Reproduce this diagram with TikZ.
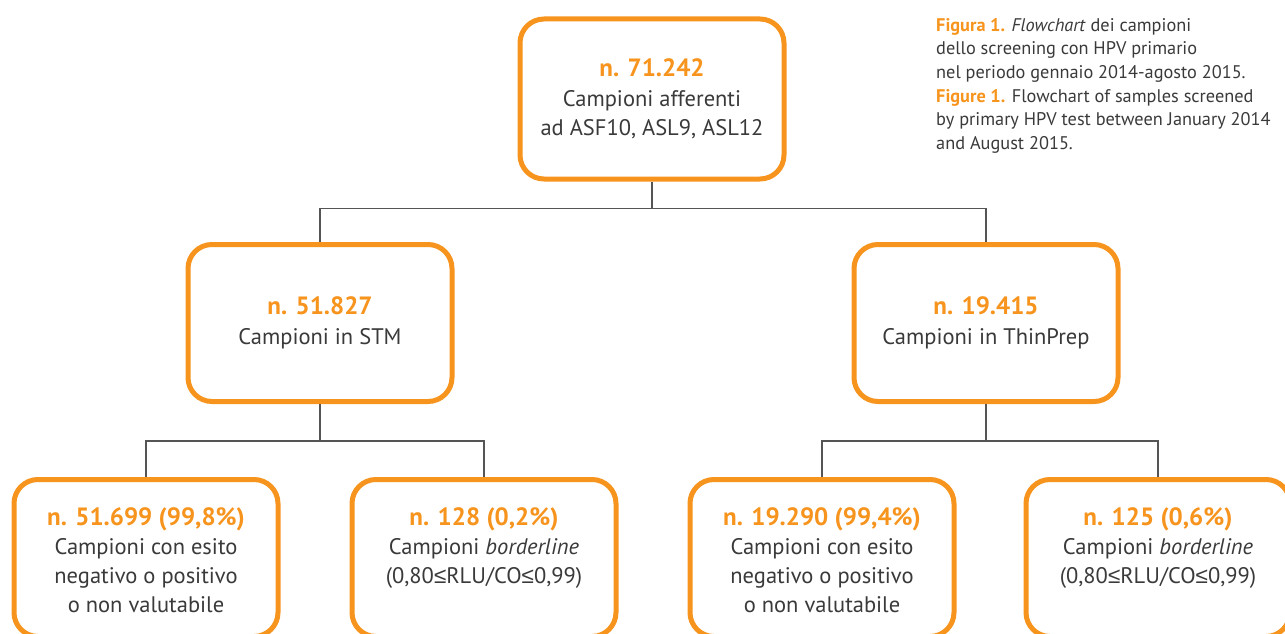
\documentclass[tikz,border=0pt]{standalone}
\usepackage{fontspec}
\setmainfont{PT Sans}
\newfontfamily\symfont{Liberation Sans}
\usetikzlibrary{positioning}
\definecolor{boxorange}{HTML}{F7941D}
\definecolor{txtgray}{HTML}{3A3A3A}
\definecolor{linegray}{HTML}{555555}
\tikzset{
  flowbox/.style={ draw=boxorange, line width=5pt, rounded corners=24pt, fill=white,
    minimum width=264pt, minimum height=157pt, text=txtgray, align=center,
    font=\fontsize{22.5}{29.5}\selectfont }
}
\tikzset{
  boxtext/.style={ text=txtgray, align=center, inner sep=0pt, font=\fontsize{22.5}{29.3}\selectfont }
}
\tikzset{
  link/.style={ draw=linegray, line width=1.4pt }
}
\newcommand{\numtxt}[1]{{\bfseries\color{boxorange}#1}}
\newcommand{\bignum}[1]{{\fontsize{25}{29.5}\selectfont\numtxt{#1}}}
\newcommand{\lesym}{{\symfont ≤}}

\begin{document}
\begin{tikzpicture}[x=1pt, y=-1pt]
  \path[use as bounding box, clip] (0,0) rectangle (1285,634);
  \node[flowbox, minimum height=160pt] (tot) at (652, 99) {\bignum{n. 71.242}\\Campioni afferenti\\ad ASF10, ASL9, ASL12};
  \node[flowbox] (stm) at (320, 323) {\bignum{n. 51.827}\\Campioni in STM};
  \node[flowbox] (thin) at (986, 323) {\bignum{n. 19.415}\\Campioni in ThinPrep};
  % bottom row: boxes run past the lower edge, text sits at the top
  \node[flowbox] (stmneg) at (146, 558) {};
  \node[flowbox] (stmbord) at (484, 558) {};
  \node[flowbox] (thinneg) at (822, 558) {};
  \node[flowbox] (thinbord) at (1158, 558) {};
  \node[boxtext, below=30pt of stmneg.north] (stmnegtxt) {\bignum{n. 51.699 (99,8\%)}\\Campioni con esito\\negativo o positivo\\o non valutabile};
  \node[boxtext, below=30pt of stmbord.north] (stmbordtxt) {\bignum{n. 128 (0,2\%)}\\Campioni \textit{borderline}\\(0,80\lesym RLU/CO\lesym 0,99)};
  \node[boxtext, below=30pt of thinneg.north] (thinnegtxt) {\bignum{n. 19.290 (99,4\%)}\\Campioni con esito\\negativo o positivo\\o non valutabile};
  \node[boxtext, below=30pt of thinbord.north] (thinbordtxt) {\bignum{n. 125 (0,6\%)}\\Campioni \textit{borderline}\\(0,80\lesym RLU/CO\lesym 0,99)};
  \draw[link] (tot.south) -- ++(0,27) coordinate (hubtop) -| (stm.north);
  \draw[link] (hubtop) -| (thin.north);
  \draw[link] (stm.south) -- ++(0,37) coordinate (hubstm) -| (stmneg.north);
  \draw[link] (hubstm) -| (stmbord.north);
  \draw[link] (thin.south) -- ++(0,37) coordinate (hubthin) -| (thinneg.north);
  \draw[link] (hubthin) -| (thinbord.north);
  \node[anchor=north west, inner sep=0pt, align=left, text=txtgray,
    font=\fontsize{18.3}{23.6}\selectfont] (caption) at (936, 18)
    {\numtxt{Figura 1.} \textit{Flowchart} dei campioni\\dello screening con HPV primario\\nel periodo gennaio 2014-agosto 2015.\\\numtxt{Figure 1.} Flowchart of samples screened\\by primary HPV test between January 2014\\and August 2015.};
\end{tikzpicture}
\end{document}
